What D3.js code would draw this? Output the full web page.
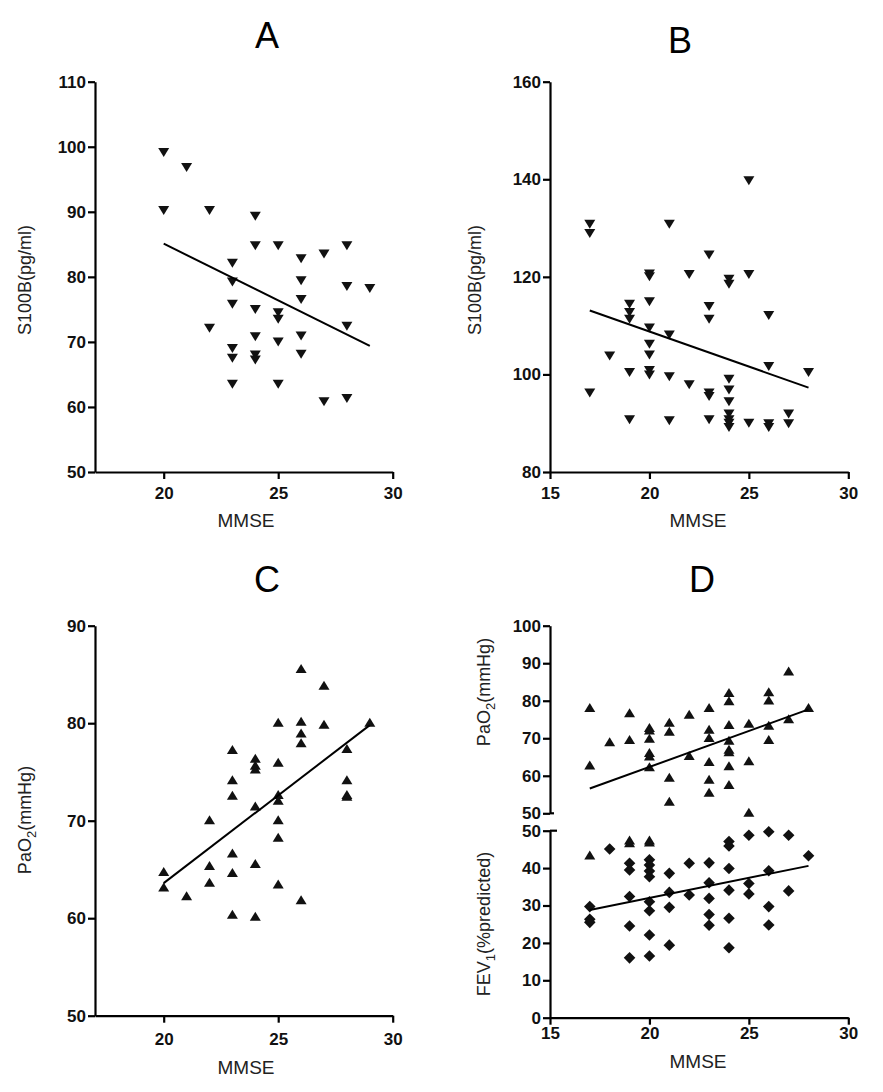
<!DOCTYPE html>
<html><head><meta charset="utf-8">
<script src="https://cdn.jsdelivr.net/npm/d3@7"></script>
<style>
html,body{margin:0;padding:0;background:#fff;}
svg text{font-family:"Liberation Sans",Arial,sans-serif;}
</style></head>
<body>
<svg id="chart" width="883" height="1092"></svg>
<script>
// ---------- DATA ----------
const panelTitles = ["A", "B", "C", "D"];
const xLabel = "MMSE";

// Panel A: S100B vs MMSE
const aMMSE  = [20,21,20,22,24,24,25,26,27,28,23,23,26,28,29,26,23,24,25,25,22,28,24,26,25,23,23,24,24,26,23,25,27,28];
const aS100B = [99.1,96.8,90.2,90.2,89.3,84.8,84.8,82.8,83.5,84.8,82.1,79.2,79.4,78.5,78.2,76.5,75.8,75.0,74.5,73.5,72.1,72.4,70.8,70.9,70.0,69.0,67.5,68.0,67.2,68.1,63.5,63.5,60.8,61.3];
const aFit = [[20,85.1],[29,69.4]];
const aYTicks = [50,60,70,80,90,100,110];
const aXTicks = [20,25,30];

// Panel B: S100B vs MMSE
const bMMSE  = [17,17,17,18,19,19,19,19,19,20,20,20,20,20,20,20,20,21,21,21,21,22,22,23,23,23,23,23,23,24,24,24,24,24,24,24,24,24,25,25,25,26,26,26,26,27,27,28];
const bS100B = [130.8,128.9,96.2,103.8,114.4,112.7,111.3,100.4,90.7,120.6,120.0,114.9,109.5,106.2,104.0,100.8,99.9,130.8,108.1,99.5,90.5,120.5,97.9,124.5,113.9,111.3,96.2,95.5,90.7,119.5,118.5,99.0,96.8,94.4,91.9,90.7,90.0,89.1,139.7,120.5,90.0,112.1,101.6,89.9,89.1,91.9,89.9,100.4];
const bFit = [[17,113.1],[28,97.3]];
const bYTicks = [80,100,120,140,160];
const bXTicks = [15,20,25,30];

// Panel C: PaO2 vs MMSE
const cMMSE = [20,20,21,22,22,22,23,23,23,23,23,23,24,24,24,24,24,24,25,25,25,25,25,25,25,26,26,26,26,26,27,27,28,28,28,28,29];
const cPaO2 = [64.8,63.2,62.3,70.1,65.4,63.7,77.3,74.2,72.6,66.7,64.7,60.4,76.4,75.7,75.3,71.5,65.6,60.2,80.1,76.0,72.7,72.1,70.1,68.3,63.5,85.6,80.2,79.0,78.0,61.9,83.9,79.9,77.4,74.2,72.7,72.5,80.1];
const cFit = [[20,63.6],[29,79.8]];
const cYTicks = [50,60,70,80,90];
const cXTicks = [20,25,30];

// Panel D: PaO2 (upper, broken axis) and FEV1 (lower) vs MMSE
const dMMSEp = [17,17,18,19,19,20,20,20,20,20,20,21,21,21,21,22,22,23,23,23,23,23,23,24,24,24,24,24,24,24,24,25,25,25,26,26,26,26,27,27,28,17,19,19,20,20];
const dPaO2  = [78.2,62.9,69.1,76.8,69.7,72.9,72.2,70.0,66.2,65.3,62.4,74.3,71.9,59.6,53.2,76.4,65.4,78.2,72.4,70.2,63.8,59.1,55.6,82.2,80.0,73.7,69.5,67.1,66.4,62.7,57.7,74.0,64.0,50.3,82.4,80.2,73.5,69.7,87.9,75.2,78.2,43.5,47.5,46.8,47.5,47.0];
const dMMSEf = [17,17,17,18,19,19,19,19,19,20,20,20,20,20,20,20,20,21,21,21,21,22,22,23,23,23,23,23,24,24,24,24,24,24,25,25,25,26,26,26,26,27,27,28];
const dFEV1  = [29.7,26.3,25.5,45.1,41.3,39.5,32.4,24.5,16.0,42.2,40.8,39.2,37.7,31.0,28.6,22.1,16.5,38.6,33.5,29.5,19.4,41.3,32.8,41.4,36.1,31.9,27.6,24.7,47.1,45.9,39.9,34.1,26.6,18.7,48.8,35.9,33.1,49.7,39.3,29.7,24.8,48.8,33.9,43.3];
const dFitP = [[17,56.6],[28,77.7]];
const dFitF = [[17,28.8],[28,40.6]];
const dYTicksTop = [50,60,70,80,90,100];
const dYTicksBot = [0,10,20,30,40,50];
const dXTicks = [15,20,25,30];

// ---------- DRAWING ----------
const svg = d3.select("#chart");
const tickFont = "bold 17px 'Liberation Sans', Arial, sans-serif";

const triDown = "M-5.5,-4.5L5.5,-4.5L0,4.5Z";
const triUp   = "M-5.5,4.5L5.5,4.5L0,-4.5Z";
const diamond = "M0,-5.8L5.8,0L0,5.8L-5.8,0Z";

function styleAxis(g){
  g.selectAll("path.domain").attr("stroke","#000").attr("stroke-width",2.2);
  g.selectAll(".tick line").attr("stroke","#000").attr("stroke-width",2.2);
  g.selectAll(".tick text").attr("fill","#111").style("font",tickFont);
}

function yAxis(x, scale, ticks){
  const g = svg.append("g").attr("transform",`translate(${x},0)`)
    .call(d3.axisLeft(scale).tickValues(ticks).tickSize(7).tickSizeOuter(0).tickPadding(2));
  styleAxis(g);
  return g;
}
function xAxis(y, scale, ticks, pad){
  const g = svg.append("g").attr("transform",`translate(0,${y})`)
    .call(d3.axisBottom(scale).tickValues(ticks).tickSize(7).tickSizeOuter(0).tickPadding(pad));
  styleAxis(g);
  return g;
}
function points(xs, ys, xS, yS, shape){
  svg.append("g").selectAll("path").data(xs.map((d,i)=>[d,ys[i]])).join("path")
    .attr("d", shape).attr("fill","#111")
    .attr("transform", d=>`translate(${xS(d[0])},${yS(d[1])})`);
}
function fitLine(fit, xS, yS){
  svg.append("path").datum(fit)
    .attr("d", d3.line().x(d=>xS(d[0])).y(d=>yS(d[1])))
    .attr("fill","none").attr("stroke","#000").attr("stroke-width",2);
}
function title(t, x, y){
  svg.append("text").attr("x",x).attr("y",y).attr("text-anchor","middle")
    .style("font-size","36px").attr("fill","#000").text(t);
}
function xTitle(x, y){
  svg.append("text").attr("x",x).attr("y",y).attr("text-anchor","middle")
    .style("font-size","19px").attr("fill","#222").text(xLabel);
}
function yTitle(x, y, parts){
  const t = svg.append("text").attr("transform",`translate(${x},${y}) rotate(-90)`)
    .attr("text-anchor","middle").style("font-size","18px").attr("fill","#222");
  parts.forEach(p=>{
    const s = t.append("tspan").text(p.t);
    if(p.sub){ s.attr("dy",5).style("font-size","13px"); }
    else if(p.after){ s.attr("dy",-5); }
  });
}

// Panel A
{
  const x = d3.scaleLinear([17,30],[95,392.7]);
  const y = d3.scaleLinear([50,110],[472,81.7]);
  yAxis(95, y, aYTicks);
  xAxis(472, x, aXTicks, 8);
  points(aMMSE, aS100B, x, y, triDown);
  fitLine(aFit, x, y);
  title(panelTitles[0], 267, 48);
  xTitle(246, 527);
  yTitle(31, 280, [{t:"S100B(pg/ml)"}]);
}
// Panel B
{
  const x = d3.scaleLinear([15,30],[550,848.3]);
  const y = d3.scaleLinear([80,160],[472,81.7]);
  yAxis(550, y, bYTicks);
  xAxis(472, x, bXTicks, 8);
  points(bMMSE, bS100B, x, y, triDown);
  fitLine(bFit, x, y);
  title(panelTitles[1], 680, 53);
  xTitle(698, 527);
  yTitle(481, 280, [{t:"S100B(pg/ml)"}]);
}
// Panel C
{
  const x = d3.scaleLinear([17,30],[95,392.7]);
  const y = d3.scaleLinear([50,90],[1015.7,625.7]);
  yAxis(95, y, cYTicks);
  xAxis(1015.7, x, cXTicks, 10);
  points(cMMSE, cPaO2, x, y, triUp);
  fitLine(cFit, x, y);
  title(panelTitles[2], 267, 592);
  xTitle(246, 1074);
  yTitle(31, 820, [{t:"PaO"},{t:"2",sub:true},{t:"(mmHg)",after:true}]);
}
// Panel D
{
  const x = d3.scaleLinear([15,30],[550,848.3]);
  const yTop = d3.scaleLinear([50,100],[813.3,625.7]);
  const yBot = d3.scaleLinear([0,50],[1017.7,830.7]);
  const yBroken = v => v >= 50 ? yTop(v) : yBot(v);
  yAxis(550, yTop, dYTicksTop);
  yAxis(550, yBot, dYTicksBot);
  // small right-hand nubs at the axis break
  svg.append("line").attr("x1",550).attr("x2",554).attr("y1",yTop(50)).attr("y2",yTop(50)).attr("stroke","#000").attr("stroke-width",2.2);
  svg.append("line").attr("x1",550).attr("x2",557).attr("y1",yBot(50)).attr("y2",yBot(50)).attr("stroke","#000").attr("stroke-width",2.2);
  xAxis(1017.7, x, dXTicks, 2);
  points(dMMSEf, dFEV1, x, yBot, diamond);
  points(dMMSEp, dPaO2, x, yBroken, triUp);
  fitLine(dFitP, x, yTop);
  fitLine(dFitF, x, yBot);
  title(panelTitles[3], 702, 592);
  xTitle(698, 1068);
  yTitle(490, 692, [{t:"PaO"},{t:"2",sub:true},{t:"(mmHg)",after:true}]);
  yTitle(490, 924, [{t:"FEV"},{t:"1",sub:true},{t:"(%predicted)",after:true}]);
}
</script>
</body></html>
